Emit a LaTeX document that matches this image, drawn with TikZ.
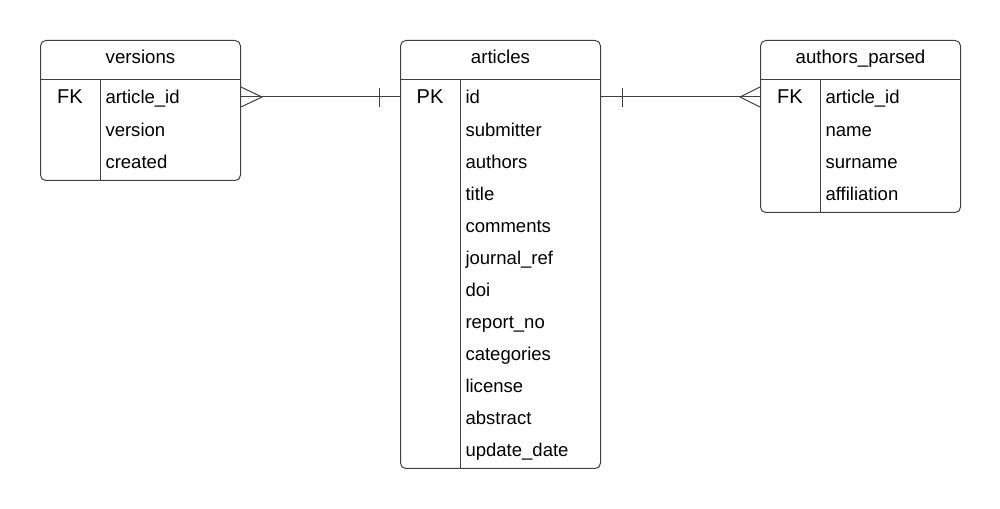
\documentclass[tikz,border=0pt]{standalone}
\usepackage{fontspec}
\setmainfont{Liberation Sans}
\usetikzlibrary{calc,positioning}
\tikzstyle{tbl}=[draw=black!75, rounded corners=4pt, minimum width=150pt, anchor=north west, inner sep=0pt]
\tikzstyle{hdr}=[anchor=base, inner sep=0pt, font=\fontsize{14}{16}\selectfont]
\tikzstyle{fld}=[anchor=base west, inner sep=0pt, font=\fontsize{13.9}{16}\selectfont]
\tikzstyle{key}=[anchor=base, inner sep=0pt, font=\fontsize{15}{18}\selectfont]
\tikzstyle{rel}=[draw=black!75]

\begin{document}
\begin{tikzpicture}[x=0.75pt,y=-0.75pt,line width=0.75pt]
      \useasboundingbox (0,0) rectangle (1000,509);
      % tables
      \node [tbl, minimum height=105pt] (versions) at (40,40) {};
      \node [tbl, minimum height=321pt] (articles) at (400,40) {};
      \node [tbl, minimum height=129pt] (parsed) at (760,40) {};
      \foreach \t/\h in {versions/versions, articles/articles, parsed/authors\_parsed} {
        \draw [rel] ($(\t.north west)+(0,40)$) -- ($(\t.north east)+(0,40)$);
        \draw [rel] ($(\t.north west)+(60,40)$) -- ($(\t.south west)+(60,0)$);
        \node [hdr] at ($(\t.north)+(0,24)$) {\h};
      }
      % keys
      \node [key] (versions-key) at ($(versions.north west)+(30,64)$) {FK};
      \node [key] (articles-key) at ($(articles.north west)+(30,64)$) {PK};
      \node [key] (parsed-key) at ($(parsed.north west)+(30,64)$) {FK};
      % fields
      \foreach \f [count=\i from 0, evaluate=\i as \y using {63.5+32.6*min(\i,1)+32*max(\i-1,0)}] in {article\_id, version, created}
        \node [fld] at ($(versions.north west)+(65,\y)$) {\f};
      \foreach \f [count=\i from 0, evaluate=\i as \y using {63.5+32.6*min(\i,1)+32*max(\i-1,0)}] in {id, submitter, authors, title, comments, journal\_ref, doi, report\_no, categories, license, abstract, update\_date}
        \node [fld] at ($(articles.north west)+(65,\y)$) {\f};
      \foreach \f [count=\i from 0, evaluate=\i as \y using {63.5+32.6*min(\i,1)+32*max(\i-1,0)}] in {article\_id, name, surname, affiliation}
        \node [fld] at ($(parsed.north west)+(65,\y)$) {\f};
      % relations
      \coordinate (versions-fk) at ($(versions.north east)+(0,57)$);
      \coordinate (articles-in) at ($(articles.north west)+(0,57)$);
      \coordinate (articles-out) at ($(articles.north east)+(0,57)$);
      \coordinate (parsed-fk) at ($(parsed.north west)+(0,57)$);
      \draw [rel] (versions-fk) -- (articles-in);
      \draw [rel] (articles-out) -- (parsed-fk);
      \draw [rel] ($(versions-fk)+(0,-10)$) -- ($(versions-fk)+(21,0)$) -- ($(versions-fk)+(0,10)$);
      \draw [rel] ($(parsed-fk)+(0,-10)$) -- ($(parsed-fk)+(-20,0)$) -- ($(parsed-fk)+(0,10)$);
      \draw [rel] ($(articles-in)+(-21,-9)$) -- ($(articles-in)+(-21,10)$);
      \draw [rel] ($(articles-out)+(21,-9)$) -- ($(articles-out)+(21,10)$);
  \end{tikzpicture}
\end{document}
